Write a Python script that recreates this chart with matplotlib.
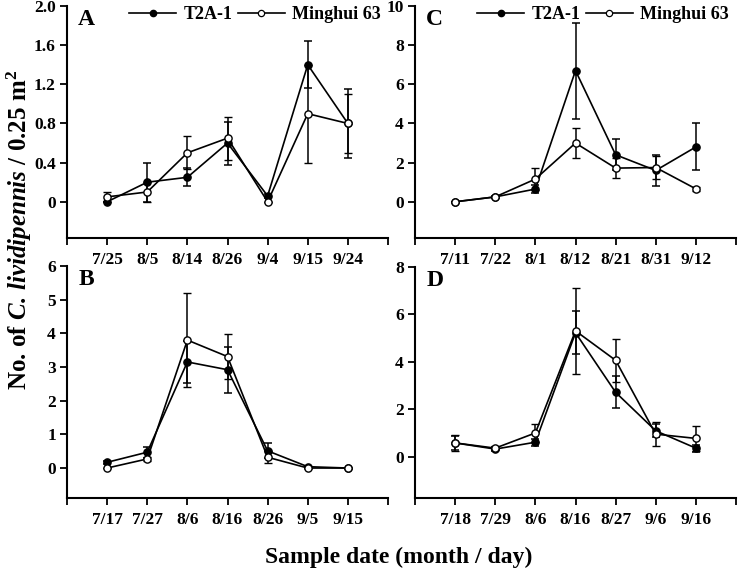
import matplotlib
matplotlib.use("Agg")
import matplotlib.pyplot as plt
from matplotlib.lines import Line2D
import numpy as np

plt.rcParams['font.family'] = ['Liberation Serif', 'DejaVu Serif']
plt.rcParams['font.weight'] = 'bold'
plt.rcParams['mathtext.fontset'] = 'custom'
plt.rcParams['mathtext.rm'] = 'Liberation Serif:bold'
plt.rcParams['mathtext.it'] = 'Liberation Serif:italic:bold'
plt.rcParams['mathtext.bf'] = 'Liberation Serif:bold'

# ---- data ----
dates_A = ['7/25', '8/5', '8/14', '8/26', '9/4', '9/15', '9/24']
t2a_A = [0.0, 0.20, 0.25, 0.60, 0.06, 1.40, 0.80]
t2a_A_err = [0.0, 0.20, 0.09, 0.22, 0.02, 0.24, 0.35]
mh_A = [0.05, 0.10, 0.50, 0.65, 0.0, 0.90, 0.80]
mh_A_err = [0.05, 0.10, 0.17, 0.22, 0.0, 0.50, 0.30]

dates_B = ['7/17', '7/27', '8/6', '8/16', '8/26', '9/5', '9/15']
t2a_B = [0.17, 0.47, 3.15, 2.92, 0.51, 0.04, 0.0]
t2a_B_err = [0.05, 0.16, 0.62, 0.68, 0.22, 0.02, 0.0]
mh_B = [0.0, 0.27, 3.80, 3.31, 0.32, 0.0, 0.0]
mh_B_err = [0.0, 0.05, 1.40, 0.67, 0.18, 0.0, 0.0]

dates_C = ['7/11', '7/22', '8/1', '8/12', '8/21', '8/31', '9/12']
t2a_C = [0.0, 0.25, 0.65, 6.70, 2.40, 1.60, 2.80]
t2a_C_err = [0.0, 0.05, 0.20, 2.45, 0.80, 0.80, 1.20]
mh_C = [0.0, 0.25, 1.16, 3.00, 1.72, 1.75, 0.66]
mh_C_err = [0.0, 0.05, 0.55, 0.76, 0.53, 0.60, 0.10]

dates_D = ['7/18', '7/29', '8/6', '8/16', '8/27', '9/6', '9/16']
t2a_D = [0.59, 0.33, 0.62, 5.23, 2.72, 1.10, 0.37]
t2a_D_err = [0.30, 0.08, 0.15, 0.90, 0.68, 0.28, 0.15]
mh_D = [0.59, 0.37, 1.01, 5.31, 4.07, 0.96, 0.78]
mh_D_err = [0.35, 0.08, 0.38, 1.80, 0.90, 0.50, 0.54]

yticks_A = [0, 0.4, 0.8, 1.2, 1.6, 2.0]
ytl_A = ['0', '0.4', '0.8', '1.2', '1.6', '2.0']
yticks_B = [0, 1, 2, 3, 4, 5, 6]
yticks_C = [0, 2, 4, 6, 8, 10]
yticks_D = [0, 2, 4, 6, 8]

W, H = 738, 571
fig = plt.figure(figsize=(W / 100, H / 100), dpi=100)

def px_axes(x0, y0, x1, y1):
    return fig.add_axes([x0 / W, 1 - y1 / H, (x1 - x0) / W, (y1 - y0) / H])

panels = [
    ('A', (67, 6, 388, 238), dates_A, t2a_A, t2a_A_err, mh_A, mh_A_err, yticks_A, ytl_A, (-0.37, 2.0), True),
    ('C', (415, 6, 736, 238), dates_C, t2a_C, t2a_C_err, mh_C, mh_C_err, yticks_C, None, (-1.85, 10), True),
    ('B', (67, 266, 388, 498), dates_B, t2a_B, t2a_B_err, mh_B, mh_B_err, yticks_B, None, (-0.89, 6), False),
    ('D', (415, 267, 736, 498), dates_D, t2a_D, t2a_D_err, mh_D, mh_D_err, yticks_D, None, (-1.73, 8), False),
]

handles = [
    Line2D([], [], color='black', lw=1.2, marker='o', ms=4.5, mfc='black', mec='black'),
    Line2D([], [], color='black', lw=1.2, marker='o', ms=4.5, mfc='white', mec='black', mew=0.9),
]

for letter, box, dates, t2a, t2e, mh, mhe, yt, ytl, ylim, leg in panels:
    ax = px_axes(*box)
    x = np.arange(len(dates))
    ax.errorbar(x, t2a, yerr=t2e, color='black', lw=1.2, marker='o', ms=5.2,
                mfc='black', mec='black', capsize=3, elinewidth=1.1, capthick=1.1,
                zorder=3)
    ax.errorbar(x, mh, yerr=mhe, color='black', lw=1.2, marker='o', ms=5.2,
                mfc='white', mec='black', mew=1.0, capsize=3, elinewidth=1.1, capthick=1.1,
                zorder=4)
    ax.set_xlim(-1, 7)
    ax.set_ylim(*ylim)
    ax.set_xticks(np.arange(-1, 8))
    ax.set_xticklabels([''] + dates + [''])
    ax.set_yticks(yt)
    if ytl is not None:
        ax.set_yticklabels(ytl)
    for s in ['top', 'right']:
        ax.spines[s].set_visible(False)
    for s in ['left', 'bottom']:
        ax.spines[s].set_linewidth(1.5)
    ax.tick_params(axis='x', direction='out', length=5, width=1.3, pad=5, labelsize=12.5)
    ax.tick_params(axis='y', direction='out', length=5, width=1.3, pad=3, labelsize=12.5)
    for lab in ax.get_xticklabels() + ax.get_yticklabels():
        lab.set_fontweight('bold')
    ax.text(0.035, 0.985, letter, transform=ax.transAxes, fontsize=17,
            fontweight='bold', va='top', ha='left')
    if leg:
        ax.legend(handles, ['T2A-1', 'Minghui 63'], loc='upper right',
                  bbox_to_anchor=(1.0, 1.03), ncol=2, frameon=False,
                  prop={'weight': 'bold', 'size': 13}, handlelength=2.6,
                  handletextpad=0.4, columnspacing=0.3, borderaxespad=0.0)

fig.text(19 / W, 1 - 230 / H, r"No. of $\mathit{C.\,lividipennis}$ / 0.25 m$^{\mathrm{2}}$",
         rotation=90, ha='center', va='center', fontsize=18, fontweight='bold')
fig.text(399 / W, 1 - 557 / H, 'Sample date (month / day)', ha='center', va='center',
         fontsize=17, fontweight='bold')

fig.savefig('out.png', dpi=100)
